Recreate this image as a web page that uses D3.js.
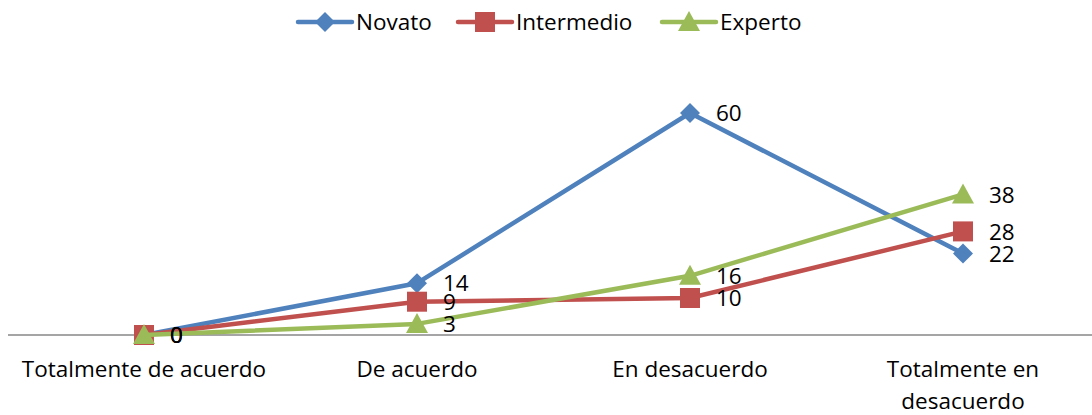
<!DOCTYPE html>
<html><head><meta charset="utf-8">
<script src="https://cdn.jsdelivr.net/npm/d3@7"></script>
<style>body{margin:0;background:#fff}svg{display:block;font-family:"Open Sans",sans-serif}</style>
</head><body><svg id="c" width="1092" height="415"></svg>
<script>
const categories = [["Totalmente de acuerdo"],["De acuerdo"],["En desacuerdo"],["Totalmente en","desacuerdo"]];
const seriesNames = ["Novato","Intermedio","Experto"];
const novato = [0,14,60,22];
const intermedio = [0,9,10,28];
const experto = [0,3,16,38];
const colors = ["#4F81BD","#C0504D","#9BBB59"];
const data = [novato, intermedio, experto];
const FS = 22.5;

const diamond = "M0,-10L10,0L0,10L-10,0Z";
const square = "M-10,-10H10V10H-10Z";
const triangle = "M0,-11L11,9H-11Z";
const shapes = [diamond, square, triangle];

const svg = d3.select("#c");
const x = d3.scalePoint().domain(d3.range(4)).range([144,963]);
const y = d3.scaleLinear().domain([0,60]).range([335,113]);

svg.append("line").attr("x1",8).attr("x2",1092).attr("y1",y(0)).attr("y2",y(0)).attr("stroke","#878787").attr("stroke-width",1.5);

const xl = svg.append("g");
categories.forEach((c,i)=>{
  c.forEach((t,j)=>{
    xl.append("text").attr("x",x(i)).attr("y",377+j*31.5).attr("text-anchor","middle").attr("font-size",FS).attr("fill","#000").text(t);
  });
});

const line = d3.line().x((d,i)=>x(i)).y(d=>y(d));
data.forEach((vals,s)=>{
  const g = svg.append("g");
  g.append("path").attr("d",line(vals)).attr("fill","none").attr("stroke",colors[s]).attr("stroke-width",4.5).attr("stroke-linejoin","round");
  g.selectAll(".m").data(vals).join("path")
    .attr("transform",(d,i)=>`translate(${x(i)},${y(d)})`)
    .attr("d",shapes[s]).attr("fill",colors[s]);
});
data.forEach((vals,s)=>{
  svg.append("g").selectAll("text").data(vals).join("text")
    .attr("x",(d,i)=>x(i)+26).attr("y",d=>y(d)).attr("dy","0.36em")
    .attr("font-size",FS).attr("fill","#000").text(d=>d);
});

const legX = [298,458,662];
seriesNames.forEach((n,s)=>{
  const g = svg.append("g").attr("transform",`translate(${legX[s]},22)`);
  g.append("line").attr("x1",0).attr("x2",54).attr("stroke",colors[s]).attr("stroke-width",4.5).attr("stroke-linecap","round");
  g.append("path").attr("transform","translate(27,0)").attr("d",shapes[s]).attr("fill",colors[s]);
  g.append("text").attr("x",58).attr("dy","0.36em").attr("font-size",FS).attr("fill","#000").text(n);
});
</script></body></html>
